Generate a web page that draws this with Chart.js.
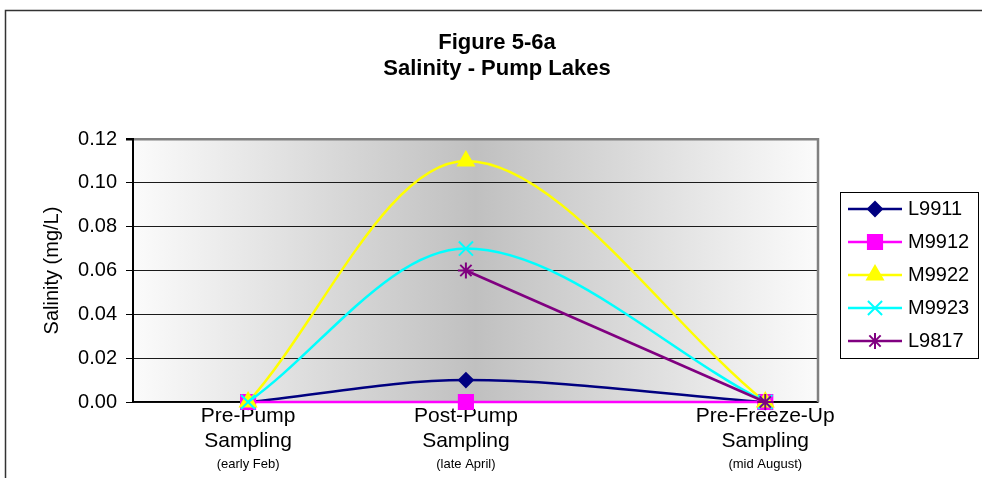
<!DOCTYPE html>
<html><head><meta charset="utf-8">
<script src="https://cdn.jsdelivr.net/npm/chart.js@4.4.1/dist/chart.umd.min.js"></script>
<style>html,body{margin:0;padding:0;background:#fff;}canvas{display:block;}</style>
</head><body>
<canvas id="c" width="982" height="478"></canvas>
<script>
// ---- data ----
const categories = ['Pre-Pump Sampling', 'Post-Pump Sampling', 'Pre-Freeze-Up Sampling'];
const xLabels = [['Pre-Pump', 'Sampling'], ['Post-Pump', 'Sampling'], ['Pre-Freeze-Up', 'Sampling']];
const xSubLabels = ['(early Feb)', '(late April)', '(mid August)'];
const xPositions = [16.8, 48.6, 92.3];   // relative sampling time (unequal spacing in the figure)
const seriesNames = ['L9911', 'M9912', 'M9922', 'M9923', 'L9817'];
const L9911 = [0, 0.01, 0];
const M9912 = [0, 0, 0];
const M9922 = [0, 0.11, 0];
const M9923 = [0, 0.07, 0];
const L9817 = [null, 0.06, 0];
const yTicks = [0, 0.02, 0.04, 0.06, 0.08, 0.10, 0.12];

// ---- styles ----
const FONT = "'Liberation Sans', Arial, sans-serif";
const seriesValues = [L9911, M9912, M9922, M9923, L9817];
const styles = [
  {color: '#000080', pointStyle: 'rectRot', radius: 7, tension: 0.33},
  {color: '#FF00FF', pointStyle: 'rect', radius: 10, tension: 0.33},
  {color: '#FFFF00', pointStyle: 'triangle', radius: 9, tension: 0.33},
  {color: '#00FFFF', pointStyle: 'crossRot', radius: 10, tension: 0.33},
  {color: '#800080', pointStyle: 'star', radius: 8, tension: 0}
];

function legendIcon(st) {
  const c = document.createElement('canvas');
  c.width = 54; c.height = 24;
  const g = c.getContext('2d');
  g.strokeStyle = st.color; g.lineWidth = 2.5;
  g.beginPath(); g.moveTo(0, 12); g.lineTo(54, 12); g.stroke();
  g.fillStyle = st.color; g.lineWidth = 2;
  try {
    Chart.helpers.drawPoint(g, {pointStyle: st.pointStyle, radius: st.radius, borderWidth: 2, rotation: 0}, 27, 12);
  } catch (e) {
    g.beginPath(); g.arc(27, 12, 6, 0, Math.PI * 2); g.fill();
  }
  return c;
}
const legendIcons = styles.map(legendIcon);

const datasets = seriesNames.map((name, i) => {
  const st = styles[i];
  const pts = [];
  seriesValues[i].forEach((v, j) => { if (v !== null) pts.push({x: xPositions[j], y: v}); });
  return {
    label: name,
    data: pts,
    borderColor: st.color,
    backgroundColor: st.color,
    borderWidth: 2.5,
    pointStyle: st.pointStyle,
    pointRadius: st.radius,
    pointHoverRadius: st.radius,
    pointBorderWidth: 2,
    pointBackgroundColor: st.color,
    pointBorderColor: st.color,
    tension: st.tension,
    fill: false,
    clip: false,
    order: seriesNames.length - i
  };
});

const LEGEND_W = 150;

const decor = {
  id: 'decor',
  beforeLayout(chart) {
    const lg = chart.legend;
    if (lg && !lg.__fixedW) {
      const orig = lg.fit;
      lg.fit = function () { orig.call(this); this.width = LEGEND_W; };
      lg.__fixedW = true;
    }
  },
  afterLayout(chart) {
    const lg = chart.legend, a = chart.chartArea;
    if (!lg || !lg.columnSizes || !lg.columnSizes.length) return;
    const pad = lg.options.labels.padding;
    const colH = lg.columnSizes[0].height;
    const curY = (lg.top + pad + lg.bottom - colH) / 2;
    const dy = (a.top + 60) - curY;
    const dx = (a.right + 34) - (lg.left + pad);
    lg.left += dx; lg.right += dx; lg.top += dy; lg.bottom += dy;
  },
  beforeDraw(chart) {
    const {ctx, chartArea: a} = chart;
    ctx.save();
    ctx.fillStyle = '#fff'; ctx.fillRect(0, 0, chart.width, chart.height);
    ctx.strokeStyle = '#333'; ctx.lineWidth = 1.5;
    ctx.beginPath(); ctx.moveTo(5.5, chart.height); ctx.lineTo(5.5, 10.5); ctx.lineTo(chart.width, 10.5); ctx.stroke();
    const gr = ctx.createLinearGradient(a.left, 0, a.right, 0);
    gr.addColorStop(0, '#fbfbfb'); gr.addColorStop(0.5, '#c0c0c0'); gr.addColorStop(1, '#fbfbfb');
    ctx.fillStyle = gr; ctx.fillRect(a.left, a.top, a.right - a.left, a.bottom - a.top);
    ctx.restore();
  },
  beforeDatasetsDraw(chart) {
    const {ctx, chartArea: a} = chart;
    ctx.save();
    ctx.strokeStyle = '#808080'; ctx.lineWidth = 2.5;
    ctx.beginPath(); ctx.moveTo(a.right, a.top - 1); ctx.lineTo(a.right, a.bottom); ctx.stroke();
    ctx.restore();
  },
  afterDraw(chart) {
    const {ctx} = chart;
    const xs = chart.scales.x;
    ctx.save();
    ctx.fillStyle = '#000';
    ctx.font = '13px ' + FONT;
    ctx.textAlign = 'center'; ctx.textBaseline = 'middle';
    xPositions.forEach((v, i) => {
      ctx.fillText(xSubLabels[i], xs.getPixelForValue(v), chart.chartArea.bottom + 62);
    });
    const lg = chart.legend;
    if (lg && lg.columnSizes && lg.columnSizes.length) {
      const pad = lg.options.labels.padding;
      const cy = (lg.top + pad + lg.bottom - lg.columnSizes[0].height) / 2;
      ctx.strokeStyle = '#000'; ctx.lineWidth = 1;
      ctx.strokeRect(Math.round(lg.left + 1) + 0.5, Math.round(cy - 7) + 0.5, 138, 166);
    }
    ctx.restore();
  }
};

Chart.defaults.font.family = FONT;
Chart.defaults.color = '#000';

new Chart(document.getElementById('c'), {
  type: 'line',
  data: {datasets},
  plugins: [decor],
  options: {
    responsive: false,
    animation: false,
    events: [],
    layout: {padding: {left: 26, right: 14, top: 0, bottom: 22}},
    plugins: {
      tooltip: {enabled: false},
      title: {
        display: true,
        text: ['Figure 5-6a', 'Salinity - Pump Lakes'],
        color: '#000',
        font: {size: 22, weight: 'bold', lineHeight: 26 / 22},
        padding: {top: 30, bottom: 57}
      },
      legend: {
        position: 'right',
        labels: {
          usePointStyle: true,
          pointStyleWidth: 46,
          padding: 13,
          color: '#000',
          font: {size: 20},
          sort: (a, b) => a.datasetIndex - b.datasetIndex,
          generateLabels(chart) {
            const items = Chart.defaults.plugins.legend.labels.generateLabels(chart);
            items.forEach(it => { it.pointStyle = legendIcons[it.datasetIndex]; it.lineWidth = 0; });
            return items;
          }
        }
      }
    },
    scales: {
      x: {
        type: 'linear',
        min: 0, max: 100,
        afterBuildTicks(scale) { scale.ticks = xPositions.map(v => ({value: v})); },
        grid: {display: false, drawTicks: false},
        border: {display: true, color: '#000', width: 1.5},
        ticks: {
          autoSkip: false, maxRotation: 0, padding: 2,
          font: {size: 21, lineHeight: 25 / 21},
          color: '#000',
          callback: (v, i) => xLabels[i]
        }
      },
      y: {
        type: 'linear',
        min: 0, max: 0.12,
        afterBuildTicks(scale) { scale.ticks = yTicks.map(v => ({value: v})); },
        afterFit(scale) { scale.width = 107; },
        grid: {
          color: ctx => (ctx.tick && Math.abs(ctx.tick.value - 0.12) < 1e-9) ? '#808080' : '#1a1a1a',
          lineWidth: ctx => (ctx.tick && Math.abs(ctx.tick.value - 0.12) < 1e-9) ? 2.5 : 1,
          tickColor: '#000',
          tickLength: 7,
          drawTicks: true
        },
        border: {display: true, color: '#000', width: 2},
        ticks: {
          padding: 9,
          font: {size: 20},
          color: '#000',
          callback: v => Number(v).toFixed(2)
        },
        title: {
          display: true,
          text: 'Salinity (mg/L)',
          color: '#000',
          font: {size: 20},
          padding: {top: 14, bottom: 0}
        }
      }
    }
  }
});
</script>
</body></html>
